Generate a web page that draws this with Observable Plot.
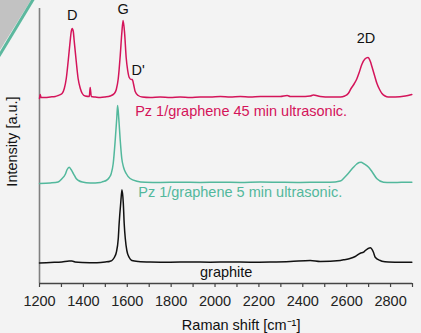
<!DOCTYPE html>
<html><head><meta charset="utf-8">
<script src="https://cdn.jsdelivr.net/npm/d3@7"></script>
<script src="https://cdn.jsdelivr.net/npm/@observablehq/plot@0.6"></script>
<style>
body{margin:0;background:#f3f3f3;}
#wrap{position:relative;width:421px;height:333px;overflow:hidden;}
#deco{position:absolute;left:0;top:0;}
#chart{position:absolute;left:0;top:0;}
</style></head><body>
<div id="wrap"><svg id="deco" width="421" height="333">
<polygon points="0,0 31,0 0,50" fill="#c2c2c2"/>
<line x1="34" y1="-2" x2="-1" y2="56" stroke="#5cb89e" stroke-width="3"/>
</svg><div id="chart"></div></div>
<script>
// Raman spectra (intensity in a.u., stacked with offsets as in the figure)
const shift45 = [1200,1203,1207,1226,1249,1272,1285,1303,1313,1322,1331,1340,1344,1349,1354,1358,1367,1376,1386,1395,1408,1427,1431,1436,1454,1477,1499,1522,1541,1550,1559,1568,1575,1581,1588,1595,1602,1609,1618,1623,1629,1636,1650,1668,1705,1750,1796,1841,1887,1932,1978,2024,2069,2115,2160,2206,2252,2297,2329,2343,2388,2434,2448,2480,2525,2571,2591,2607,2620,2635,2646,2657,2669,2683,2697,2708,2715,2727,2738,2750,2761,2775,2789,2821,2867,2897];
const int45 = [185,189,186,186,186.5,187,188,190,195,205,223,243,251,255,252,243,223,205,195,190,187.5,187,196,187,186.5,186,186.5,187.5,190,194,205,228,250,263,250,226,213,206,204,204,199,192,188,186.5,186,186.5,186,186.5,186,186.5,186.5,187,186.5,187,186.5,187,187,187,188,187,187,187.5,188.5,187,186.5,186.5,187.5,190,195,200,204.5,211,219,224.5,226,222,217,208,200,194,190,187.5,186.5,186.5,187.5,189];

const shift5 = [1200,1249,1285,1302,1317,1326,1335,1344,1355,1367,1378,1395,1431,1477,1490,1504,1518,1527,1536,1545,1552,1556,1561,1568,1575,1583,1595,1613,1644,1682,1750,1841,1932,2024,2115,2206,2297,2388,2480,2525,2571,2591,2607,2631,2646,2657,2666,2677,2700,2715,2738,2768,2800,2850,2897];
const int5 = [100,100.5,101.5,104.7,109,114,116.3,114,109.7,105,103,101.5,100.5,101,102,103,106,110,120,143,165,178,166,143,125,116.3,110,105,102.3,101.3,101,101.3,101,101.3,101,101.5,101.2,101,101.3,101.3,102.5,106.3,110,116.3,119.5,121,121.3,120,116.3,112,104.7,101.3,101,101.2,101.3];

const shiftGr = [1200,1249,1302,1335,1348,1362,1395,1462,1500,1522,1530,1541,1550,1559,1563,1570,1576,1582,1586,1591,1598,1609,1621,1650,1705,1796,1887,1978,2069,2160,2252,2343,2434,2480,2571,2586,2615,2639,2662,2677,2685,2707,2722,2730,2753,2761,2790,2850,2897];
const intGr = [20.5,21,21.5,22.5,22.5,21.5,21,20.8,21.5,22.3,23,26,31,45,60,80,93.7,80,60,45,33,26,23,22,21.5,21.3,21.5,21.3,21.5,21.3,21.5,22,23,22,23,23.7,25,27,30.3,31.3,33,35.7,31.3,26.3,23,22.3,21.5,21.3,21.3];

const xTicks = [1200,1300,1400,1500,1600,1700,1800,1900,2000,2100,2200,2300,2400,2500,2600,2700,2800,2900];

const peakNames = ["D","G","D'","2D"];
const peakX = [1349,1581,1650,2688];
const peakY = [268,274,213,245];

const seriesNames = ["Pz 1/graphene 45 min ultrasonic.","Pz 1/graphene 5 min ultrasonic.","graphite"];
const seriesColors = ["#d4145a","#52b89c","#111111"];
const seriesLabelX = [1636,1650,2051];
const seriesLabelY = [172.3,91,11.3];
const seriesAnchor = ["start","start","middle"];

const red = shift45.map((x,i)=>({x, y:int45[i]}));
const green = shift5.map((x,i)=>({x, y:int5[i]}));
const black = shiftGr.map((x,i)=>({x, y:intGr[i]}));
const peaks = peakNames.map((t,i)=>({t, x:peakX[i], y:peakY[i]}));
const labels = seriesNames.map((t,i)=>({t, x:seriesLabelX[i], y:seriesLabelY[i], c:seriesColors[i], a:seriesAnchor[i]}));

const font = "'Liberation Sans', Arial, sans-serif";

const chart = Plot.plot({
  width: 421, height: 333,
  marginLeft: 39, marginRight: 9, marginTop: 8, marginBottom: 50,
  style: {background: "transparent", fontFamily: font, fontSize: "14px", color: "#222"},
  x: {domain: [1200, 2900]},
  y: {domain: [0, 275], axis: null},
  marks: [
    Plot.axisX({ticks: xTicks, tickFormat: d => d % 200 === 0 ? String(d) : "", tickSize: 4, tickPadding: 8, label: null, fontSize: 14.5, stroke: "#444", strokeWidth: 1.2, fill: "#222"}),
    Plot.ruleX([1200], {stroke: "#808080", strokeWidth: 1.6}),
    Plot.ruleY([0], {stroke: "#444", strokeWidth: 1.4}),
    Plot.line(black, {x: "x", y: "y", stroke: seriesColors[2], strokeWidth: 1.5, curve: "monotone-x"}),
    Plot.line(green, {x: "x", y: "y", stroke: seriesColors[1], strokeWidth: 1.5, curve: "monotone-x"}),
    Plot.line(red, {x: "x", y: "y", stroke: seriesColors[0], strokeWidth: 1.5, curve: "monotone-x"}),
    Plot.text(peaks, {x: "x", y: "y", text: "t", fill: "#111", fontSize: 14.5}),
    Plot.text(labels.filter(d=>d.a==="start"), {x: "x", y: "y", text: "t", fill: "c", textAnchor: "start", fontSize: 14.5}),
    Plot.text(labels.filter(d=>d.a==="middle"), {x: "x", y: "y", text: "t", fill: "c", textAnchor: "middle", fontSize: 14.5}),
    Plot.text(["Raman shift [cm⁻¹]"], {x: 2119, frameAnchor: "bottom", lineAnchor: "middle", dy: 42, text: d => d, fill: "#111", fontSize: 14.5}),
    Plot.text(["Intensity [a.u.]"], {frameAnchor: "left", y: 142, dx: -27, rotate: -90, textAnchor: "middle", lineAnchor: "middle", text: d => d, fill: "#111", fontSize: 14.5})
  ]
});
document.getElementById("chart").appendChild(chart);
</script>
</body></html>
